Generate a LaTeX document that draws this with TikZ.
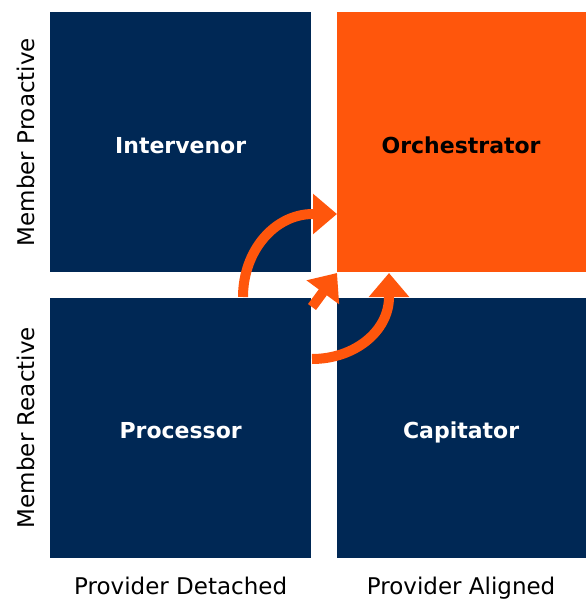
\documentclass[tikz,border=0pt]{standalone}
\usepackage{fontspec}
\setmainfont{DejaVu Sans}
\usetikzlibrary{arrows.meta}
\usetikzlibrary{positioning}

\definecolor{navy}{RGB}{0,40,85}
\definecolor{flame}{RGB}{255,86,12}

\begin{document}
\begin{tikzpicture}[x=1pt,y=-1pt,
    quad/.style={inner sep=0pt,minimum height=260pt,
      text height=22pt,text depth=0pt,
      font=\bfseries\fontsize{22}{26}\selectfont},
    axis/.style={font=\fontsize{23}{27}\selectfont},
    turn/.style={flame,line width=10pt,-{Triangle[length=24pt,width=39pt]}}]
    \useasboundingbox (0,0) rectangle (585,601);
    % the four quadrants
    \node[quad,minimum width=261pt,fill=navy,text=white,anchor=north west]
      (interv) at (50,12) {Intervenor};
    \node[quad,minimum width=249pt,fill=flame,text=black,right=25pt of interv]
      (orch) {Orchestrator};
    \node[quad,minimum width=261pt,fill=navy,text=white,below=25pt of interv]
      (proc) {Processor};
    \node[quad,minimum width=249pt,fill=navy,text=white,below=25pt of orch]
      (capit) {Capitator};
    % axis labels
    \node[axis,rotate=90,anchor=south] (proact) at ([xshift=-12pt]interv.west)
      {Member Proactive};
    \node[axis,rotate=90,anchor=south] (react) at ([xshift=-12pt]proc.west)
      {Member Reactive};
    \node[axis,below=16pt of proc] (detach) {Provider Detached};
    \node[axis,below=16pt of capit] (align) {Provider Aligned};
    % moves towards the orchestrator
    \coordinate (up) at (243,297);
    \coordinate (diag) at (312,307);
    \coordinate (diagtip) at (337,273);
    \coordinate (side) at (312,359);
    \draw[turn] (up) arc[start angle=180,end angle=270,x radius=70,y radius=83]
      -- ++(24,0);
    \draw[turn] (diag) -- (diagtip);
    \draw[turn] (side) arc[start angle=90,end angle=0,x radius=77,y radius=62]
      -- ++(0,-24);
  \end{tikzpicture}
\end{document}
